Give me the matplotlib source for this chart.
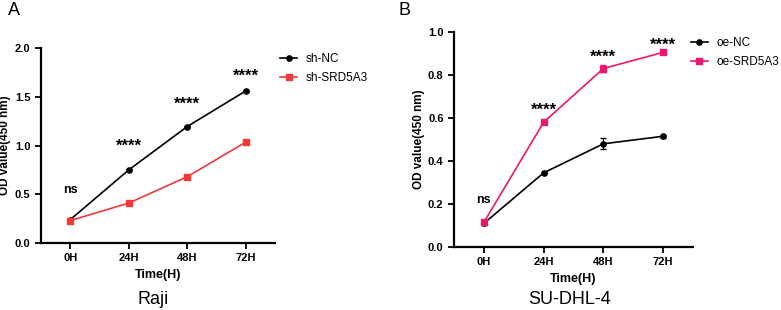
import numpy as np
import matplotlib
matplotlib.use("Agg")
import matplotlib.pyplot as plt

plt.rcParams['font.family'] = ['Liberation Sans', 'DejaVu Sans']

times = ['0H', '24H', '48H', '72H']

# panel A - Raji
raji_nc = [0.24, 0.75, 1.195, 1.56]
raji_nc_err = [0.01, 0.01, 0.01, 0.01]
raji_kd = [0.23, 0.41, 0.68, 1.035]
raji_kd_err = [0.01, 0.01, 0.01, 0.01]
raji_sig = ['ns', '****', '****', '****']
raji_sig_y = [0.545, 0.99, 1.42, 1.71]

# panel B - SU-DHL-4
sudhl_nc = [0.11, 0.345, 0.48, 0.515]
sudhl_nc_err = [0.006, 0.005, 0.025, 0.008]
sudhl_oe = [0.115, 0.58, 0.83, 0.905]
sudhl_oe_err = [0.005, 0.008, 0.015, 0.006]
sudhl_sig = ['ns', '****', '****', '****']
sudhl_sig_y = [0.22, 0.635, 0.88, 0.94]

fig = plt.figure(figsize=(7.81, 3.10), dpi=100)
axA = fig.add_axes([0.0525, 0.216, 0.2996, 0.629])
axB = fig.add_axes([0.5813, 0.203, 0.306, 0.694])


def draw(ax, ctrl, ctrl_err, treat, treat_err, labels, col, sig, sig_y, ymax, ystep, leg_x, ylab_x):
    x = np.arange(len(times))
    ax.errorbar(x, ctrl, yerr=ctrl_err, fmt='none', ecolor='black', capsize=2, elinewidth=0.8)
    ax.errorbar(x, treat, yerr=treat_err, fmt='none', ecolor=col, capsize=2, elinewidth=0.8)
    ax.plot(x, ctrl, color='black', marker='o', ms=3.8, lw=1.2, label=labels[0])
    ax.plot(x, treat, color=col, marker='s', ms=3.8, lw=1.2, label=labels[1])
    for xi, s, yy in zip(x, sig, sig_y):
        if s == 'ns':
            ax.text(xi, yy, s, ha='center', va='center', fontsize=9, fontweight='bold')
        else:
            ax.text(xi, yy, s, ha='center', va='center', fontsize=12, fontweight='bold')
    ax.set_xlim(-0.5, 3.5)
    ax.set_ylim(0, ymax)
    ticks = np.arange(0, ymax + 1e-9, ystep)
    ax.set_yticks(ticks)
    ax.set_yticklabels(['%.1f' % v for v in ticks])
    ax.set_xticks(x)
    ax.set_xticklabels(times)
    for lab in ax.get_xticklabels() + ax.get_yticklabels():
        lab.set_fontweight('bold')
    ax.tick_params(labelsize=8, width=1.3, length=4)
    ax.spines['top'].set_visible(False)
    ax.spines['right'].set_visible(False)
    ax.spines['left'].set_linewidth(1.6)
    ax.spines['bottom'].set_linewidth(1.6)
    ax.set_xlabel('Time(H)', fontsize=9, fontweight='bold', labelpad=4)
    ax.set_ylabel('OD value(450 nm)', fontsize=8.5, fontweight='bold')
    ax.yaxis.set_label_coords(ylab_x, 0.5)
    ax.legend(loc='upper left', bbox_to_anchor=(leg_x, 1.0), frameon=False, fontsize=8.5,
              handlelength=1.5, handletextpad=0.7, labelspacing=0.6, borderaxespad=0)


draw(axA, raji_nc, raji_nc_err, raji_kd, raji_kd_err, ['sh-NC', 'sh-SRD5A3'], '#f03a3a',
     raji_sig, raji_sig_y, 2.0, 0.5, 1.0, -0.13)
draw(axB, sudhl_nc, sudhl_nc_err, sudhl_oe, sudhl_oe_err, ['oe-NC', 'oe-SRD5A3'], '#e8196e',
     sudhl_sig, sudhl_sig_y, 1.0, 0.2, 0.97, -0.12)

fig.text(153 / 781, 1 - 300 / 310, 'Raji', ha='center', va='center', fontsize=13)
fig.text(570 / 781, 1 - 300 / 310, 'SU-DHL-4', ha='center', va='center', fontsize=13)
fig.text(0.01, 0.995, 'A', fontsize=13, va='top')
fig.text(0.51, 0.995, 'B', fontsize=13, va='top')

fig.savefig('out.png', dpi=100)
